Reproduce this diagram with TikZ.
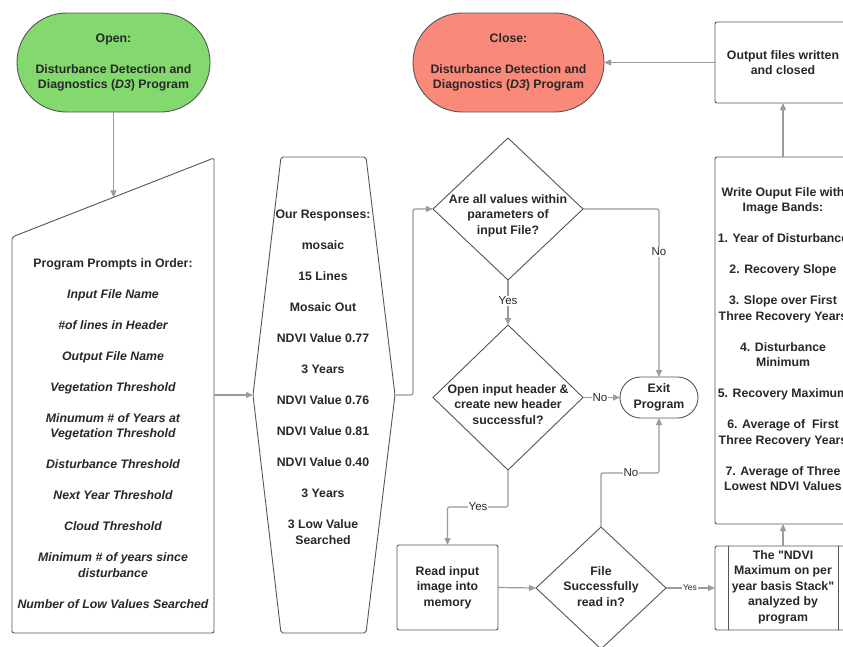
\documentclass[tikz,border=0pt]{standalone}
\usepackage{fontspec}
\setmainfont{Liberation Sans}
\usetikzlibrary{shapes.geometric,shapes.misc,arrows.meta}

\definecolor{startgreen}{RGB}{131,216,110}
\definecolor{stopred}{RGB}{250,137,122}
\definecolor{edgegray}{RGB}{85,85,85}
\definecolor{wiregray}{RGB}{155,155,155}
\definecolor{ink}{RGB}{40,40,40}

\begin{document}
\begin{tikzpicture}[x=1pt,y=-1pt,
  every node/.style={text=ink, inner sep=0pt, outer sep=0pt},
  txt/.style={font=\fontsize{12.3}{15.5}\selectfont\bfseries, align=center},
  shapeline/.style={draw=edgegray, line width=0.9pt},
  terminal/.style={shapeline, rounded rectangle},
  box/.style={shapeline, rectangle, rounded corners=2pt},
  decision/.style={shapeline, diamond},
  flow/.style={draw=wiregray, line width=1.2pt, rounded corners=2pt,
               -{Triangle[length=7pt,width=6pt]}},
  tag/.style={font=\fontsize{11.5}{13}\selectfont, fill=white, inner sep=1pt},
  smalltag/.style={font=\fontsize{8.5}{10}\selectfont, fill=white, inner sep=1pt},
]
\useasboundingbox (0,0) rectangle (843,646);
\fill[white] (0,0) rectangle (843,646);

% ---- terminals ----
\node[terminal, fill=startgreen, minimum width=193pt, minimum height=99pt, txt]
  (open) at (113.5,62.5)
  {Open:\\[15.5pt]Disturbance Detection and\\Diagnostics (\textit{D3}) Program};
\node[terminal, fill=stopred, minimum width=191pt, minimum height=99pt, txt]
  (close) at (508.5,62.5)
  {Close:\\[15.5pt]Disturbance Detection and\\Diagnostics (\textit{D3}) Program};
\node[terminal, minimum width=78pt, minimum height=41pt, txt]
  (exit) at (659,397.5) {Exit\\Program};

% ---- manual input: program prompts ----
\coordinate (mi-tl) at (12,237);
\coordinate (mi-tr) at (214,158);
\coordinate (mi-br) at (214,633);
\coordinate (mi-bl) at (12,633);
\coordinate (mi-in) at (113.5,197.3);
\coordinate (mi-out) at (214,395);
\draw[shapeline, rounded corners=2pt] (mi-tl) -- (mi-tr) -- (mi-br) -- (mi-bl) -- cycle;
\node[txt] (prompts) at (113,433.5)
  {Program Prompts in Order:\\[15.5pt]
   \itshape Input File Name\\[15.5pt]
   \itshape \#of lines in Header\\[15.5pt]
   \itshape Output File Name\\[15.5pt]
   \itshape Vegetation Threshold\\[15.5pt]
   \itshape Minumum \# of Years at\\
   \itshape Vegetation Threshold\\[15.5pt]
   \itshape Disturbance Threshold\\[15.5pt]
   \itshape Next Year Threshold\\[15.5pt]
   \itshape Cloud Threshold\\[15.5pt]
   \itshape Minimum \# of years since\\
   \itshape disturbance\\[15.5pt]
   \itshape Number of Low Values Searched};

% ---- hexagon: responses ----
\coordinate (hx-in) at (253,395);
\coordinate (hx-out) at (395,395);
\draw[shapeline, rounded corners=2pt] (281,157) -- (366,157) -- (hx-out) -- (366,633)
  -- (281,633) -- (hx-in) -- cycle;
\node[txt] (responses) at (323,377.5)
  {Our Responses:\\[15.5pt]
   mosaic\\[15.5pt]
   15 Lines\\[15.5pt]
   Mosaic Out\\[15.5pt]
   NDVI Value 0.77\\[15.5pt]
   3 Years\\[15.5pt]
   NDVI Value 0.76\\[15.5pt]
   NDVI Value 0.81\\[15.5pt]
   NDVI Value 0.40\\[15.5pt]
   3 Years\\[15.5pt]
   3 Low Value\\Searched};

% ---- decisions ----
\node[decision, minimum width=150pt, minimum height=142pt] (d1) at (508,209) {};
\node[txt] (d1-text) at (508,215.5) {Are all values within\\parameters of\\input File?};
\node[decision, minimum width=150pt, minimum height=145pt] (d2) at (508,397.5) {};
\node[txt] (d2-text) at (508,404.5) {Open input header \&\\create new header\\successful?};
\node[decision, minimum width=130pt, minimum height=122pt] (d3) at (601,588) {};
\node[txt] (d3-text) at (601,586.5) {File\\Successfully\\read in?};

% ---- process boxes ----
\node[box, minimum width=101pt, minimum height=85pt, txt] (read) at (447.5,587.5)
  {Read input\\image into\\memory};
\node[box, minimum width=136pt, minimum height=84pt] (stack) at (783,588) {};
\draw[shapeline] ([xshift=13pt]stack.north west) -- ([xshift=13pt]stack.south west);
\draw[shapeline] ([xshift=-13pt]stack.north east) -- ([xshift=-13pt]stack.south east);
\node[txt] (stack-text) at (783,587)
  {The \textquotedbl NDVI\\Maximum on per\\year basis Stack\textquotedbl\\analyzed by\\program};
\node[box, minimum width=136pt, minimum height=367pt] (write) at (783,340.5) {};
\node[txt] (write-text) at (783,339)
  {Write Ouput File with\\Image Bands:\\[15.5pt]
   1. Year of Disturbance\\[15.5pt]
   2. Recovery Slope\\[15.5pt]
   3. Slope over First\\Three Recovery Years\\[15.5pt]
   4. Disturbance\\Minimum\\[15.5pt]
   5. Recovery Maximum\\[15.5pt]
   6. Average of\ \ First\\Three Recovery Years\\[15.5pt]
   7. Average of Three\\Lowest NDVI Values};
\node[box, minimum width=136pt, minimum height=81pt, txt] (output) at (783,62.5)
  {Output files written\\and closed};

% ---- connectors ----
\draw[flow] (open.south) -- (mi-in);
\draw[flow] (mi-out) -- (hx-in);
\draw[flow] (hx-out) -- (413,395) |- (d1.west);
\draw[flow] (d1.east) -| (exit.north);
\node[tag] (no1) at (659,252) {No};
\draw[flow] (d1.south) -- (d2.north);
\node[tag] (yes1) at (508,301) {Yes};
\draw[flow] (d2.east) -- (exit.west);
\node[tag] (no2) at (600,397.5) {No};
\draw[flow] (d2.south) -- (508,507) -| (read.north);
\node[tag] (yes2) at (478,507) {Yes};
\draw[flow] (read.east) -- (d3.west);
\draw[flow] (d3.north) -- (601,473) -| (exit.south);
\node[tag] (no3) at (631,472.5) {No};
\draw[flow] (d3.east) -- (stack.west);
\node[smalltag] (yes3) at (690,588) {Yes};
\draw[flow] (stack.north) -- (write.south);
\draw[flow] (write.north) -- (output.south);
\draw[flow] (output.west) -- (close.east);
\end{tikzpicture}
\end{document}
